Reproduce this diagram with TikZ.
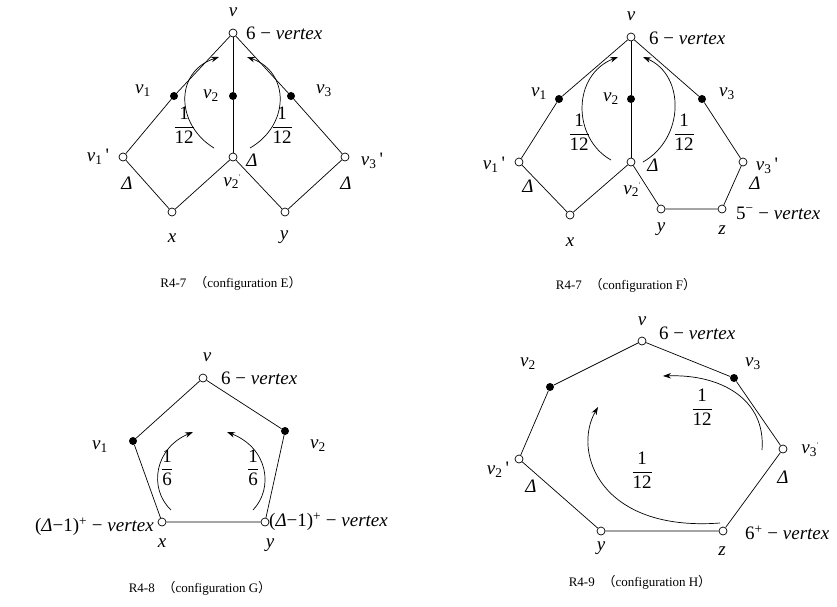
\documentclass[tikz,border=0pt]{standalone}
\usepackage{amsmath}
\usepackage{fontspec}
\setmainfont{Liberation Serif}
\newfontfamily\cjk{Noto Sans CJK SC}
\usetikzlibrary{arrows.meta}
\newcommand\vl[1]{\textit{v}\textsubscript{#1}}
\newcommand\dl{\textit{Δ}}
\newcommand\fr[1]{$\dfrac{\text{1}}{\text{#1}}$}
\newcommand\captxt[2]{#1\hspace{0.6em}{\cjk （}configuration #2{\cjk ）}}
\tikzset{
  wv/.style={circle,draw,fill=white,inner sep=0pt,minimum size=8pt,line width=0.7pt},
  bv/.style={circle,fill=black,inner sep=0pt,minimum size=8pt},
  lab/.style={inner sep=1pt,font=\fontsize{19}{21}\selectfont},
  capt/.style={inner sep=1pt,font=\fontsize{13}{15}\selectfont},
  ed/.style={line width=0.7pt},
  flow/.style={line width=0.7pt,-{Stealth[length=8pt,width=5.5pt]}}
}
\begin{document}
\begin{tikzpicture}[x=1pt,y=-1pt]
\useasboundingbox (0,0) rectangle (837,606);
% ---------- Panel E ----------
\node[wv] (vE) at (233,33) {};
\node[bv] (v1E) at (174,96) {};
\node[bv] (v2E) at (233,96) {};
\node[bv] (v3E) at (291,96) {};
\node[wv] (v1pE) at (123,157) {};
\node[wv] (v2pE) at (233,157) {};
\node[wv] (v3pE) at (345,157) {};
\node[wv] (xE) at (172,212) {};
\node[wv] (yE) at (285,212) {};
\draw[ed] (vE) -- (v1E) -- (v1pE) -- (xE) -- (v2pE) -- (yE) -- (v3pE) -- (v3E) -- (vE);
\draw[ed] (vE) -- (v2E) -- (v2pE);
\node[lab] (lvE) at (233,12) {\textit{v}};
\node[lab,anchor=west] (l6E) at (245,33) {6 − \textit{vertex}};
\node[lab] (lv1E) at (143,91) {\vl{1}};
\node[lab] (lv2E) at (211,96) {\vl{2}};
\node[lab] (lv3E) at (324,91) {\vl{3}};
\node[lab] (lv1pE) at (98,157) {\vl{1}\,\textquotesingle};
\node[lab] (ld1E) at (127,183) {\dl};
\node[lab] (lv2pE) at (232,182) {\vl{2}\textsuperscript{\scriptsize\textquotesingle}};
\node[lab] (ld2E) at (252,160) {\dl};
\node[lab] (lv3pE) at (372,161) {\vl{3}\,\textquotesingle};
\node[lab] (ld3E) at (346,183) {\dl};
\node[lab] (lxE) at (172,238) {\textit{x}};
\node[lab] (lyE) at (284,237) {\textit{y}};
\coordinate (a1sE) at (214,148); \coordinate (a1eE) at (219,57);
\coordinate (a2sE) at (250,148); \coordinate (a2eE) at (247,57);
\draw[flow] (a1sE) .. controls (176,125) and (174,72) .. (a1eE);
\draw[flow] (a2sE) .. controls (290,125) and (290,72) .. (a2eE);
\node[lab] (f1E) at (184,125) {\fr{12}};
\node[lab] (f2E) at (282,125) {\fr{12}};
\node[capt] (cE) at (231,283) {\captxt{R4-7}{E}};
% ---------- Panel F ----------
\node[wv] (vF) at (631,37) {};
\node[bv] (v1F) at (559,99) {};
\node[bv] (v2F) at (631,99) {};
\node[bv] (v3F) at (702,99) {};
\node[wv] (v1pF) at (519,162) {};
\node[wv] (v2pF) at (631,162) {};
\node[wv] (v3pF) at (743,162) {};
\node[wv] (xF) at (570,215) {};
\node[wv] (yF) at (661,209) {};
\node[wv] (zF) at (722,209) {};
\draw[ed] (vF) -- (v1F) -- (v1pF) -- (xF) -- (v2pF) -- (yF) -- (zF) -- (v3pF) -- (v3F) -- (vF);
\draw[ed] (vF) -- (v2F) -- (v2pF);
\node[lab] (lvF) at (631,16) {\textit{v}};
\node[lab,anchor=west] (l6F) at (648,38) {6 − \textit{vertex}};
\node[lab] (lv1F) at (539,94) {\vl{1}};
\node[lab] (lv2F) at (611,99) {\vl{2}};
\node[lab] (lv3F) at (727,94) {\vl{3}};
\node[lab] (lv1pF) at (494,165) {\vl{1}\,\textquotesingle};
\node[lab] (ld1F) at (528,186) {\dl};
\node[lab] (lv2pF) at (632,190) {\vl{2}\textsuperscript{\scriptsize\textquotesingle}};
\node[lab] (ld2F) at (653,165) {\dl};
\node[lab] (lv3pF) at (767,166) {\vl{3}\,\textquotesingle};
\node[lab] (ld3F) at (755,183) {\dl};
\node[lab] (lxF) at (570,242) {\textit{x}};
\node[lab] (lyF) at (661,229) {\textit{y}};
\node[lab] (lzF) at (722,230) {\textit{z}};
\node[lab,anchor=west] (l5F) at (735,213) {5\textsuperscript{−} − \textit{vertex}};
\coordinate (a1sF) at (611,160); \coordinate (a1eF) at (618,57);
\coordinate (a2sF) at (643,162); \coordinate (a2eF) at (643,57);
\draw[flow] (a1sF) .. controls (572,138) and (572,75) .. (a1eF);
\draw[flow] (a2sF) .. controls (685,138) and (685,75) .. (a2eF);
\node[lab] (f1F) at (579,132) {\fr{12}};
\node[lab] (f2F) at (684,132) {\fr{12}};
\node[capt] (cF) at (626,285) {\captxt{R4-7}{F}};
% ---------- Panel G ----------
\node[wv] (vG) at (203,378) {};
\node[bv] (v1G) at (133,441) {};
\node[bv] (v2G) at (285,431) {};
\node[wv] (xG) at (162,522) {};
\node[wv] (yG) at (265,522) {};
\draw[ed] (vG) -- (v1G) -- (xG) -- (yG) -- (v2G) -- (vG);
\node[lab] (lvG) at (207,357) {\textit{v}};
\node[lab,anchor=west] (l6G) at (220,378) {6 − \textit{vertex}};
\node[lab] (lv1G) at (100,447) {\vl{1}};
\node[lab] (lv2G) at (318,446) {\vl{2}};
\node[lab] (lxG) at (162,543) {\textit{x}};
\node[lab] (lyG) at (270,545) {\textit{y}};
\node[lab,anchor=east] (ldxG) at (155,527) {(\dl−1)\textsuperscript{+} − \textit{vertex}};
\node[lab,anchor=west] (ldyG) at (268,522) {(\dl−1)\textsuperscript{+} − \textit{vertex}};
\coordinate (a1sG) at (171,510); \coordinate (a1eG) at (193,432);
\coordinate (a2sG) at (253,510); \coordinate (a2eG) at (227,432);
\draw[flow] (a1sG) .. controls (148,488) and (155,448) .. (a1eG);
\draw[flow] (a2sG) .. controls (274,488) and (268,448) .. (a2eG);
\node[lab] (f1G) at (167,468) {\fr{6}};
\node[lab] (f2G) at (253,468) {\fr{6}};
\node[capt] (cG) at (200,588) {R4-8\hspace{0.6em}{\cjk （}configuration G{\cjk ）}};
% ---------- Panel H ----------
\node[wv] (vH) at (642,341) {};
\node[bv] (v2H) at (550,387) {};
\node[bv] (v3H) at (734,378) {};
\node[wv] (v2pH) at (519,459) {};
\node[wv] (v3pH) at (783,449) {};
\node[wv] (yH) at (601,531) {};
\node[wv] (zH) at (723,531) {};
\draw[ed] (vH) -- (v2H) -- (v2pH) -- (yH) -- (zH) -- (v3pH) -- (v3H) -- (vH);
\node[lab] (lvH) at (642,321) {\textit{v}};
\node[lab,anchor=west] (l6H) at (658,333) {6 − \textit{vertex}};
\node[lab] (lv2H) at (528,364) {\vl{2}};
\node[lab] (lv3H) at (753,364) {\vl{3}};
\node[lab] (lv2pH) at (498,470) {\vl{2}\,\textquotesingle};
\node[lab] (ld2H) at (531,486) {\dl};
\node[lab] (lv3pH) at (810,450) {\vl{3}\textsuperscript{\scriptsize\textquotesingle}};
\node[lab] (ld3H) at (783,477) {\dl};
\node[lab] (lyH) at (601,548) {\textit{y}};
\node[lab] (lzH) at (722,551) {\textit{z}};
\node[lab,anchor=west] (l6pH) at (744,533) {6\textsuperscript{+} − \textit{vertex}};
\coordinate (a1sH) at (762,450); \coordinate (a1eH) at (663,376);
\coordinate (a2sH) at (720,523); \coordinate (a2eH) at (598,407);
\draw[flow] (a1sH) .. controls (766,400) and (722,374) .. (a1eH);
\draw[flow] (a2sH) .. controls (600,532) and (572,452) .. (a2eH);
\node[lab] (f1H) at (702,407) {\fr{12}};
\node[lab] (f2H) at (642,470) {\fr{12}};
\node[capt] (cH) at (640,582) {\captxt{R4-9}{H}};
\end{tikzpicture}
\end{document}
